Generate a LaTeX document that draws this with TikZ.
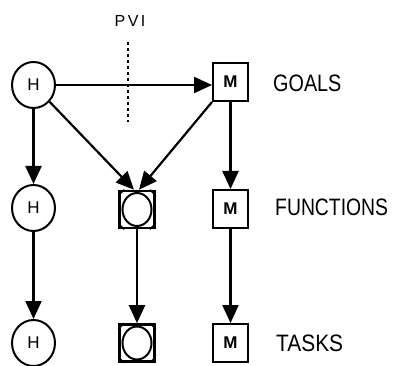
\documentclass[tikz,border=0pt]{standalone}
\usepackage{fontspec}
\setmainfont{Liberation Sans}
\usetikzlibrary{arrows.meta,shapes.geometric}
\begin{document}
\begin{tikzpicture}[x=1pt,y=-1pt,
  hnode/.style={ellipse,draw,line width=2pt,minimum width=43pt,minimum height=46pt,inner sep=0pt,font=\fontsize{17}{17}\selectfont},
  mnode/.style={rectangle,draw,line width=2pt,minimum width=35pt,minimum height=38pt,inner sep=0pt,font=\fontsize{17}{17}\selectfont\bfseries},
  cnode/.style={rectangle,draw,line width=2.6pt,minimum width=35pt,minimum height=37pt,inner sep=0pt},
  lab/.style={anchor=west,inner sep=0pt,font=\fontsize{22}{22}\selectfont},
  arr/.style={line width=2.2pt,-{Triangle[length=18pt,width=16pt]}},
  pvi/.style={line width=1.8pt,dash pattern=on 3pt off 3pt}
]
\useasboundingbox (0,0) rectangle (393,366);
% nodes
\node[hnode] (H1) at (33.5,85) {H};
\node[hnode] (H2) at (33.5,208) {H};
\node[hnode] (H3) at (33.5,343) {H};
\node[cnode] (C2) at (137,209.5) {};
\node[cnode] (C3) at (137,343) {};
\node[mnode] (M1) at (230.5,82) {M};
\node[mnode] (M2) at (230.5,209) {M};
\node[mnode] (M3) at (230.5,343) {M};
% inscribed circles and corner marks
\foreach \n in {C2,C3}{
  \draw[line width=2pt] (\n.center) ellipse [x radius=14.5pt, y radius=16.5pt];
  \draw[line width=1.4pt] ([xshift=6pt]\n.north west) -- ([yshift=-6pt]\n.north west);
  \draw[line width=1.4pt] ([xshift=-6pt]\n.north east) -- ([yshift=-6pt]\n.north east);
  \draw[line width=1.4pt] ([xshift=6pt]\n.south west) -- ([yshift=6pt]\n.south west);
  \draw[line width=1.4pt] ([xshift=-6pt]\n.south east) -- ([yshift=6pt]\n.south east);
}
% labels
\node[lab] (g) at (273,83) {\scalebox{0.9}[1.08]{GOALS}};
\node[lab] (f) at (275,207) {\scalebox{0.88}[1.08]{FUNCTIONS}};
\node[lab] (t) at (276,343) {\scalebox{0.95}[1.08]{TASKS}};
\node[inner sep=0pt,font=\fontsize{16}{16}\selectfont] (p) at (130,21) {P\kern2.5pt V\kern2.5pt I};
\coordinate (d1) at (128,42);
\coordinate (d2) at (128,122);
\draw[pvi] (d1) -- (d2);
% connectors
\draw[arr] (H1.east) -- (H1.east -| M1.west);
\draw[arr] (H1) -- (H2);
\draw[arr] (H2) -- (H3);
\draw[arr] (H1) -- ([xshift=-3pt]C2.north);
\draw[arr] (M1.south west) -- ([xshift=2pt]C2.north);
\draw[arr] (C2) -- (C3);
\draw[arr] (M1) -- (M2);
\draw[arr] (M2) -- (M3);
\end{tikzpicture}
\end{document}
